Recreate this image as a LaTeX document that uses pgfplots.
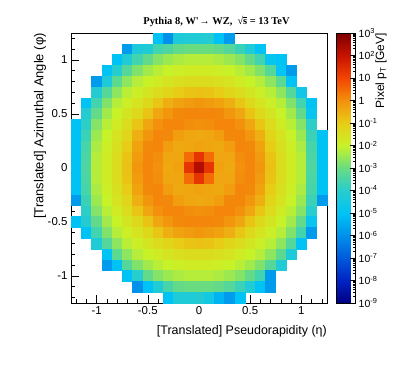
\documentclass[border=0pt]{standalone}
\usepackage{pgfplots}
\pgfplotsset{compat=1.18}
\usepackage{pgfplotstable}
\usepackage{fontspec}
\setmainfont{Liberation Sans}
\newfontfamily\titlefont{Liberation Serif}

\pgfplotsset{colormap={rootjet}{rgb255(0cm)=(0,0,130); rgb255(1cm)=(0,35,195); rgb255(2cm)=(0,90,220); rgb255(3cm)=(0,145,235); rgb255(4cm)=(0,195,245); rgb255(5cm)=(40,205,205); rgb255(6cm)=(105,220,130); rgb255(7cm)=(200,242,40); rgb255(8cm)=(232,205,22); rgb255(9cm)=(243,145,12); rgb255(10cm)=(243,68,2); rgb255(11cm)=(200,18,0); rgb255(12cm)=(125,0,0)}}

% pixel pT per cell (cell centres, 0.1 x 0.1 cells)
\pgfplotstableread{
x y pt
-0.4 1.2 1e-5
-0.3 1.2 1e-6
-0.2 1.2 5e-5
-0.1 1.2 6.3e-5
0 1.2 6.3e-5
0.1 1.2 8e-5
0.2 1.2 1e-5
0.3 1.2 1.6e-6
-0.7 1.1 1.6e-6
-0.6 1.1 5e-5
-0.5 1.1 6.3e-5
-0.4 1.1 2.5e-4
-0.3 1.1 4e-4
-0.2 1.1 8e-4
-0.1 1.1 1e-3
0 1.1 1e-3
0.1 1.1 1e-3
0.2 1.1 8e-4
0.3 1.1 5e-4
0.4 1.1 2e-4
0.5 1.1 6.3e-5
0.6 1.1 1e-5
-0.8 1.0 1e-5
-0.7 1.0 6.3e-5
-0.6 1.0 2.5e-4
-0.5 1.0 8e-4
-0.4 1.0 0.002
-0.3 1.0 0.0035
-0.2 1.0 0.005
-0.1 1.0 0.0063
0 1.0 0.0063
0.1 1.0 0.0063
0.2 1.0 0.005
0.3 1.0 0.0035
0.4 1.0 0.002
0.5 1.0 8e-4
0.6 1.0 2.5e-4
0.7 1.0 1.5e-5
0.8 1.0 1e-5
-0.9 0.9 1e-5
-0.8 0.9 9e-5
-0.7 0.9 5e-4
-0.6 0.9 0.0018
-0.5 0.9 0.004
-0.4 0.9 0.007
-0.3 0.9 0.01
-0.2 0.9 0.013
-0.1 0.9 0.016
0 0.9 0.016
0.1 0.9 0.016
0.2 0.9 0.013
0.3 0.9 0.01
0.4 0.9 0.007
0.5 0.9 0.004
0.6 0.9 0.0018
0.7 0.9 5e-4
0.8 0.9 1.2e-5
0.9 0.9 1.6e-6
-1.0 0.8 1.6e-6
-0.9 0.8 5e-5
-0.8 0.8 6.3e-4
-0.7 0.8 0.0025
-0.6 0.8 0.0063
-0.5 0.8 0.01
-0.4 0.8 0.016
-0.3 0.8 0.025
-0.2 0.8 0.032
-0.1 0.8 0.04
0 0.8 0.04
0.1 0.8 0.04
0.2 0.8 0.032
0.3 0.8 0.025
0.4 0.8 0.016
0.5 0.8 0.01
0.6 0.8 0.0063
0.7 0.8 0.0025
0.8 0.8 6.3e-4
0.9 0.8 1e-5
-1.0 0.7 8e-5
-0.9 0.7 5e-4
-0.8 0.7 0.0025
-0.7 0.7 0.007
-0.6 0.7 0.013
-0.5 0.7 0.022
-0.4 0.7 0.04
-0.3 0.7 0.063
-0.2 0.7 0.1
-0.1 0.7 0.14
0 0.7 0.16
0.1 0.7 0.14
0.2 0.7 0.1
0.3 0.7 0.063
0.4 0.7 0.04
0.5 0.7 0.022
0.6 0.7 0.013
0.7 0.7 0.007
0.8 0.7 0.0025
0.9 0.7 5e-4
1.0 0.7 2.5e-5
-1.1 0.6 1e-5
-1.0 0.6 2.5e-4
-0.9 0.6 0.0018
-0.8 0.6 0.0063
-0.7 0.6 0.013
-0.6 0.6 0.025
-0.5 0.6 0.05
-0.4 0.6 0.13
-0.3 0.6 0.32
-0.2 0.6 0.5
-0.1 0.6 0.7
0 0.6 0.8
0.1 0.6 0.7
0.2 0.6 0.5
0.3 0.6 0.32
0.4 0.6 0.13
0.5 0.6 0.05
0.6 0.6 0.025
0.7 0.6 0.013
0.8 0.6 0.0063
0.9 0.6 0.0018
1.0 0.6 2.5e-4
1.1 0.6 1e-5
-1.1 0.5 8e-5
-1.0 0.5 8e-4
-0.9 0.5 0.004
-0.8 0.5 0.01
-0.7 0.5 0.022
-0.6 0.5 0.05
-0.5 0.5 0.14
-0.4 0.5 0.45
-0.3 0.5 0.8
-0.2 0.5 1.3
-0.1 0.5 1.4
0 0.5 1.4
0.1 0.5 1.4
0.2 0.5 1.3
0.3 0.5 0.8
0.4 0.5 0.45
0.5 0.5 0.14
0.6 0.5 0.05
0.7 0.5 0.022
0.8 0.5 0.01
0.9 0.5 0.004
1.0 0.5 8e-4
1.1 0.5 1.5e-5
-1.2 0.4 1e-5
-1.1 0.4 1.2e-4
-1.0 0.4 0.002
-0.9 0.4 0.007
-0.8 0.4 0.016
-0.7 0.4 0.04
-0.6 0.4 0.13
-0.5 0.4 0.45
-0.4 0.4 1
-0.3 0.4 1.4
-0.2 0.4 1.4
-0.1 0.4 1.1
0 0.4 1
0.1 0.4 1.1
0.2 0.4 1.4
0.3 0.4 1.4
0.4 0.4 1
0.5 0.4 0.45
0.6 0.4 0.13
0.7 0.4 0.04
0.8 0.4 0.016
0.9 0.4 0.007
1.0 0.4 0.002
1.1 0.4 1.2e-4
-1.2 0.3 1e-5
-1.1 0.3 2e-4
-1.0 0.3 0.0035
-0.9 0.3 0.01
-0.8 0.3 0.025
-0.7 0.3 0.063
-0.6 0.3 0.32
-0.5 0.3 0.8
-0.4 0.3 1.4
-0.3 0.3 1.3
-0.2 0.3 0.63
-0.1 0.3 0.45
0 0.3 0.4
0.1 0.3 0.45
0.2 0.3 0.63
0.3 0.3 1.3
0.4 0.3 1.4
0.5 0.3 0.8
0.6 0.3 0.32
0.7 0.3 0.063
0.8 0.3 0.025
0.9 0.3 0.01
1.0 0.3 0.0035
1.1 0.3 2e-4
1.2 0.3 1e-5
-1.2 0.2 1e-5
-1.1 0.2 3e-4
-1.0 0.2 0.005
-0.9 0.2 0.013
-0.8 0.2 0.032
-0.7 0.2 0.1
-0.6 0.2 0.5
-0.5 0.2 1.3
-0.4 0.2 1.4
-0.3 0.2 0.63
-0.2 0.2 0.4
-0.1 0.2 0.45
0 0.2 0.5
0.1 0.2 0.45
0.2 0.2 0.4
0.3 0.2 0.63
0.4 0.2 1.4
0.5 0.2 1.3
0.6 0.2 0.5
0.7 0.2 0.1
0.8 0.2 0.032
0.9 0.2 0.013
1.0 0.2 0.005
1.1 0.2 3e-4
1.2 0.2 1e-5
-1.2 0.1 1e-5
-1.1 0.1 3.5e-4
-1.0 0.1 0.0063
-0.9 0.1 0.016
-0.8 0.1 0.04
-0.7 0.1 0.14
-0.6 0.1 0.7
-0.5 0.1 1.4
-0.4 0.1 1.1
-0.3 0.1 0.45
-0.2 0.1 0.45
-0.1 0.1 3
0 0.1 20
0.1 0.1 3
0.2 0.1 0.45
0.3 0.1 0.45
0.4 0.1 1.1
0.5 0.1 1.4
0.6 0.1 0.7
0.7 0.1 0.14
0.8 0.1 0.04
0.9 0.1 0.016
1.0 0.1 0.0063
1.1 0.1 3.5e-4
1.2 0.1 1e-5
-1.2 0 1e-5
-1.1 0 4e-4
-1.0 0 0.0063
-0.9 0 0.016
-0.8 0 0.04
-0.7 0 0.16
-0.6 0 0.8
-0.5 0 1.4
-0.4 0 1
-0.3 0 0.4
-0.2 0 0.5
-0.1 0 20
0 0 200
0.1 0 20
0.2 0 0.5
0.3 0 0.4
0.4 0 1
0.5 0 1.4
0.6 0 0.8
0.7 0 0.16
0.8 0 0.04
0.9 0 0.016
1.0 0 0.0063
1.1 0 4e-4
1.2 0 1e-5
-1.2 -0.1 1e-5
-1.1 -0.1 3.5e-4
-1.0 -0.1 0.0063
-0.9 -0.1 0.016
-0.8 -0.1 0.04
-0.7 -0.1 0.14
-0.6 -0.1 0.7
-0.5 -0.1 1.4
-0.4 -0.1 1.1
-0.3 -0.1 0.45
-0.2 -0.1 0.45
-0.1 -0.1 3
0 -0.1 20
0.1 -0.1 3
0.2 -0.1 0.45
0.3 -0.1 0.45
0.4 -0.1 1.1
0.5 -0.1 1.4
0.6 -0.1 0.7
0.7 -0.1 0.14
0.8 -0.1 0.04
0.9 -0.1 0.016
1.0 -0.1 0.0063
1.1 -0.1 3.5e-4
1.2 -0.1 1e-5
-1.2 -0.2 1e-5
-1.1 -0.2 3e-4
-1.0 -0.2 0.005
-0.9 -0.2 0.013
-0.8 -0.2 0.032
-0.7 -0.2 0.1
-0.6 -0.2 0.5
-0.5 -0.2 1.3
-0.4 -0.2 1.4
-0.3 -0.2 0.63
-0.2 -0.2 0.4
-0.1 -0.2 0.45
0 -0.2 0.5
0.1 -0.2 0.45
0.2 -0.2 0.4
0.3 -0.2 0.63
0.4 -0.2 1.4
0.5 -0.2 1.3
0.6 -0.2 0.5
0.7 -0.2 0.1
0.8 -0.2 0.032
0.9 -0.2 0.013
1.0 -0.2 0.005
1.1 -0.2 3e-4
1.2 -0.2 1e-5
-1.2 -0.3 1.6e-6
-1.1 -0.3 2e-4
-1.0 -0.3 0.0035
-0.9 -0.3 0.01
-0.8 -0.3 0.025
-0.7 -0.3 0.063
-0.6 -0.3 0.32
-0.5 -0.3 0.8
-0.4 -0.3 1.4
-0.3 -0.3 1.3
-0.2 -0.3 0.63
-0.1 -0.3 0.45
0 -0.3 0.4
0.1 -0.3 0.45
0.2 -0.3 0.63
0.3 -0.3 1.3
0.4 -0.3 1.4
0.5 -0.3 0.8
0.6 -0.3 0.32
0.7 -0.3 0.063
0.8 -0.3 0.025
0.9 -0.3 0.01
1.0 -0.3 0.0035
1.1 -0.3 2e-4
1.2 -0.3 1.6e-6
-1.1 -0.4 1.2e-4
-1.0 -0.4 0.002
-0.9 -0.4 0.007
-0.8 -0.4 0.016
-0.7 -0.4 0.04
-0.6 -0.4 0.13
-0.5 -0.4 0.45
-0.4 -0.4 1
-0.3 -0.4 1.4
-0.2 -0.4 1.4
-0.1 -0.4 1.1
0 -0.4 1
0.1 -0.4 1.1
0.2 -0.4 1.4
0.3 -0.4 1.4
0.4 -0.4 1
0.5 -0.4 0.45
0.6 -0.4 0.13
0.7 -0.4 0.04
0.8 -0.4 0.016
0.9 -0.4 0.007
1.0 -0.4 0.002
1.1 -0.4 1e-4
-1.2 -0.5 1e-5
-1.1 -0.5 8e-5
-1.0 -0.5 8e-4
-0.9 -0.5 0.004
-0.8 -0.5 0.01
-0.7 -0.5 0.022
-0.6 -0.5 0.05
-0.5 -0.5 0.14
-0.4 -0.5 0.45
-0.3 -0.5 0.8
-0.2 -0.5 1.3
-0.1 -0.5 1.4
0 -0.5 1.4
0.1 -0.5 1.4
0.2 -0.5 1.3
0.3 -0.5 0.8
0.4 -0.5 0.45
0.5 -0.5 0.14
0.6 -0.5 0.05
0.7 -0.5 0.022
0.8 -0.5 0.01
0.9 -0.5 0.004
1.0 -0.5 8e-4
1.1 -0.5 1.5e-5
-1.1 -0.6 1e-5
-1.0 -0.6 2.5e-4
-0.9 -0.6 0.0018
-0.8 -0.6 0.0063
-0.7 -0.6 0.013
-0.6 -0.6 0.025
-0.5 -0.6 0.05
-0.4 -0.6 0.13
-0.3 -0.6 0.32
-0.2 -0.6 0.5
-0.1 -0.6 0.7
0 -0.6 0.8
0.1 -0.6 0.7
0.2 -0.6 0.5
0.3 -0.6 0.32
0.4 -0.6 0.13
0.5 -0.6 0.05
0.6 -0.6 0.025
0.7 -0.6 0.013
0.8 -0.6 0.0063
0.9 -0.6 0.0018
1.0 -0.6 2.5e-4
1.1 -0.6 1.6e-6
-1.0 -0.7 6e-5
-0.9 -0.7 5e-4
-0.8 -0.7 0.0025
-0.7 -0.7 0.007
-0.6 -0.7 0.013
-0.5 -0.7 0.022
-0.4 -0.7 0.04
-0.3 -0.7 0.063
-0.2 -0.7 0.1
-0.1 -0.7 0.14
0 -0.7 0.16
0.1 -0.7 0.14
0.2 -0.7 0.1
0.3 -0.7 0.063
0.4 -0.7 0.04
0.5 -0.7 0.022
0.6 -0.7 0.013
0.7 -0.7 0.007
0.8 -0.7 0.0025
0.9 -0.7 5e-4
1.0 -0.7 1e-5
-0.9 -0.8 1e-5
-0.8 -0.8 6.3e-4
-0.7 -0.8 0.0025
-0.6 -0.8 0.0063
-0.5 -0.8 0.01
-0.4 -0.8 0.016
-0.3 -0.8 0.025
-0.2 -0.8 0.032
-0.1 -0.8 0.04
0 -0.8 0.04
0.1 -0.8 0.04
0.2 -0.8 0.032
0.3 -0.8 0.025
0.4 -0.8 0.016
0.5 -0.8 0.01
0.6 -0.8 0.0063
0.7 -0.8 0.0025
0.8 -0.8 6.3e-4
0.9 -0.8 5e-5
-0.9 -0.9 1.6e-6
-0.8 -0.9 1e-5
-0.7 -0.9 5e-4
-0.6 -0.9 0.0018
-0.5 -0.9 0.004
-0.4 -0.9 0.007
-0.3 -0.9 0.01
-0.2 -0.9 0.013
-0.1 -0.9 0.016
0 -0.9 0.016
0.1 -0.9 0.016
0.2 -0.9 0.013
0.3 -0.9 0.01
0.4 -0.9 0.007
0.5 -0.9 0.004
0.6 -0.9 0.0018
0.7 -0.9 5e-4
0.8 -0.9 6.3e-5
-0.7 -1.0 1e-5
-0.6 -1.0 1e-4
-0.5 -1.0 8e-4
-0.4 -1.0 0.002
-0.3 -1.0 0.0035
-0.2 -1.0 0.005
-0.1 -1.0 0.0063
0 -1.0 0.0063
0.1 -1.0 0.0063
0.2 -1.0 0.005
0.3 -1.0 0.0035
0.4 -1.0 0.002
0.5 -1.0 8e-4
0.6 -1.0 2.5e-4
0.7 -1.0 1.6e-6
-0.6 -1.1 1e-6
-0.5 -1.1 1e-5
-0.4 -1.1 6.3e-5
-0.3 -1.1 3e-4
-0.2 -1.1 8e-4
-0.1 -1.1 1e-3
0 -1.1 1e-3
0.1 -1.1 1e-3
0.2 -1.1 8e-4
0.3 -1.1 5e-4
0.4 -1.1 2e-4
0.5 -1.1 6.3e-5
0.6 -1.1 1e-5
0.7 -1.1 1.6e-6
-0.3 -1.2 1e-5
-0.2 -1.2 6e-5
-0.1 -1.2 6e-5
0 -1.2 7e-5
0.1 -1.2 3e-5
0.2 -1.2 5e-6
0.3 -1.2 1.6e-6
0.4 -1.2 1e-5
}\celldata

\begin{document}
\begin{tikzpicture}
\fill[white] (0,0) rectangle (411bp,368bp);
\useasboundingbox (0,0) rectangle (411bp,368bp);
\begin{axis}[
  at={(71bp,65bp)}, anchor=south west,
  scale only axis, width=256bp, height=270bp,
  xmin=-1.25, xmax=1.25, ymin=-1.25, ymax=1.25,
  axis on top,
  axis line style={black, line width=0.6bp},
  xtick={-1,-0.5,0,0.5,1}, xticklabels={-1,-0.5,0,0.5,1},
  ytick={-1,-0.5,0,0.5,1}, yticklabels={-1,-0.5,0,0.5,1},
  minor xtick={-1.2,-1.1,-0.9,-0.8,-0.7,-0.6,-0.4,-0.3,-0.2,-0.1,0.1,0.2,0.3,0.4,0.6,0.7,0.8,0.9,1.1,1.2},
  minor ytick={-1.2,-1.1,-0.9,-0.8,-0.7,-0.6,-0.4,-0.3,-0.2,-0.1,0.1,0.2,0.3,0.4,0.6,0.7,0.8,0.9,1.1,1.2},
  xtick pos=left, ytick pos=left, tick align=inside,
  major tick length=7.5bp, minor tick length=4bp,
  tick style={black, line width=0.6bp},
  tick label style={font=\fontsize{11.5}{13}\selectfont},
  colormap name=rootjet,
  point meta min=-9, point meta max=3,
  colorbar,
  colorbar style={
    at={(parent axis.north east)}, anchor=north west, xshift=1bp,
    scale only axis, width=19bp, height=270bp,
    ytick={-9,-8,-7,-6,-5,-4,-3,-2,-1,0,1,2,3},
    yticklabels={10\textsuperscript{-9},10\textsuperscript{-8},10\textsuperscript{-7},10\textsuperscript{-6},10\textsuperscript{-5},10\textsuperscript{-4},10\textsuperscript{-3},10\textsuperscript{-2},10\textsuperscript{-1},1,10,10\textsuperscript{2},10\textsuperscript{3}},
    minor ytick={-8.699,-8.523,-8.398,-8.301,-8.222,-8.155,-8.097,-8.046,
      -7.699,-7.523,-7.398,-7.301,-7.222,-7.155,-7.097,-7.046,
      -6.699,-6.523,-6.398,-6.301,-6.222,-6.155,-6.097,-6.046,
      -5.699,-5.523,-5.398,-5.301,-5.222,-5.155,-5.097,-5.046,
      -4.699,-4.523,-4.398,-4.301,-4.222,-4.155,-4.097,-4.046,
      -3.699,-3.523,-3.398,-3.301,-3.222,-3.155,-3.097,-3.046,
      -2.699,-2.523,-2.398,-2.301,-2.222,-2.155,-2.097,-2.046,
      -1.699,-1.523,-1.398,-1.301,-1.222,-1.155,-1.097,-1.046,
      -0.699,-0.523,-0.398,-0.301,-0.222,-0.155,-0.097,-0.046,
      0.301,0.477,0.602,0.699,0.778,0.845,0.903,0.954,
      1.301,1.477,1.602,1.699,1.778,1.845,1.903,1.954,
      2.301,2.477,2.602,2.699,2.778,2.845,2.903,2.954},
    ytick pos=right, yticklabel pos=right, tick align=inside,
    major tick length=6bp, minor tick length=3bp,
    tick style={black, line width=0.5bp},
    axis line style={black, line width=0.5bp},
    yticklabel style={font=\fontsize{10.5}{12}\selectfont, anchor=west, inner sep=2bp, xshift=1bp},
  },
]
\addplot[scatter, only marks, mark=square*, mark size=5bp,
  scatter/use mapped color={draw=mapped color, fill=mapped color},
  mark options={yscale=1.055, line width=0.5bp},
  point meta={ln(\thisrow{pt})/ln(10)}]
  table[x=x, y=y] {\celldata};
\end{axis}
\node[font=\titlefont\bfseries\fontsize{10.5}{12}\selectfont] at (216.5bp,346.5bp)
  {Pythia 8, W'\kern0.5pt→ WZ,\ \ √\kern-0.4pt\rlap{\rule[7.3bp]{4.4bp}{0.5bp}}s = 13 TeV};
\node[anchor=east, inner sep=0pt, font=\fontsize{12.5}{14}\selectfont] at (327bp,37bp)
  {[Translated] Pseudorapidity (η)};
\node[rotate=90, anchor=east, inner sep=0pt, font=\fontsize{13}{15}\selectfont] at (40bp,335bp)
  {[Translated] Azimuthal Angle (φ)};
\node[rotate=90, anchor=east, inner sep=0pt, font=\fontsize{12}{14}\selectfont] at (381bp,335bp)
  {Pixel p\textsubscript{T} [GeV]};
\end{tikzpicture}
\end{document}
